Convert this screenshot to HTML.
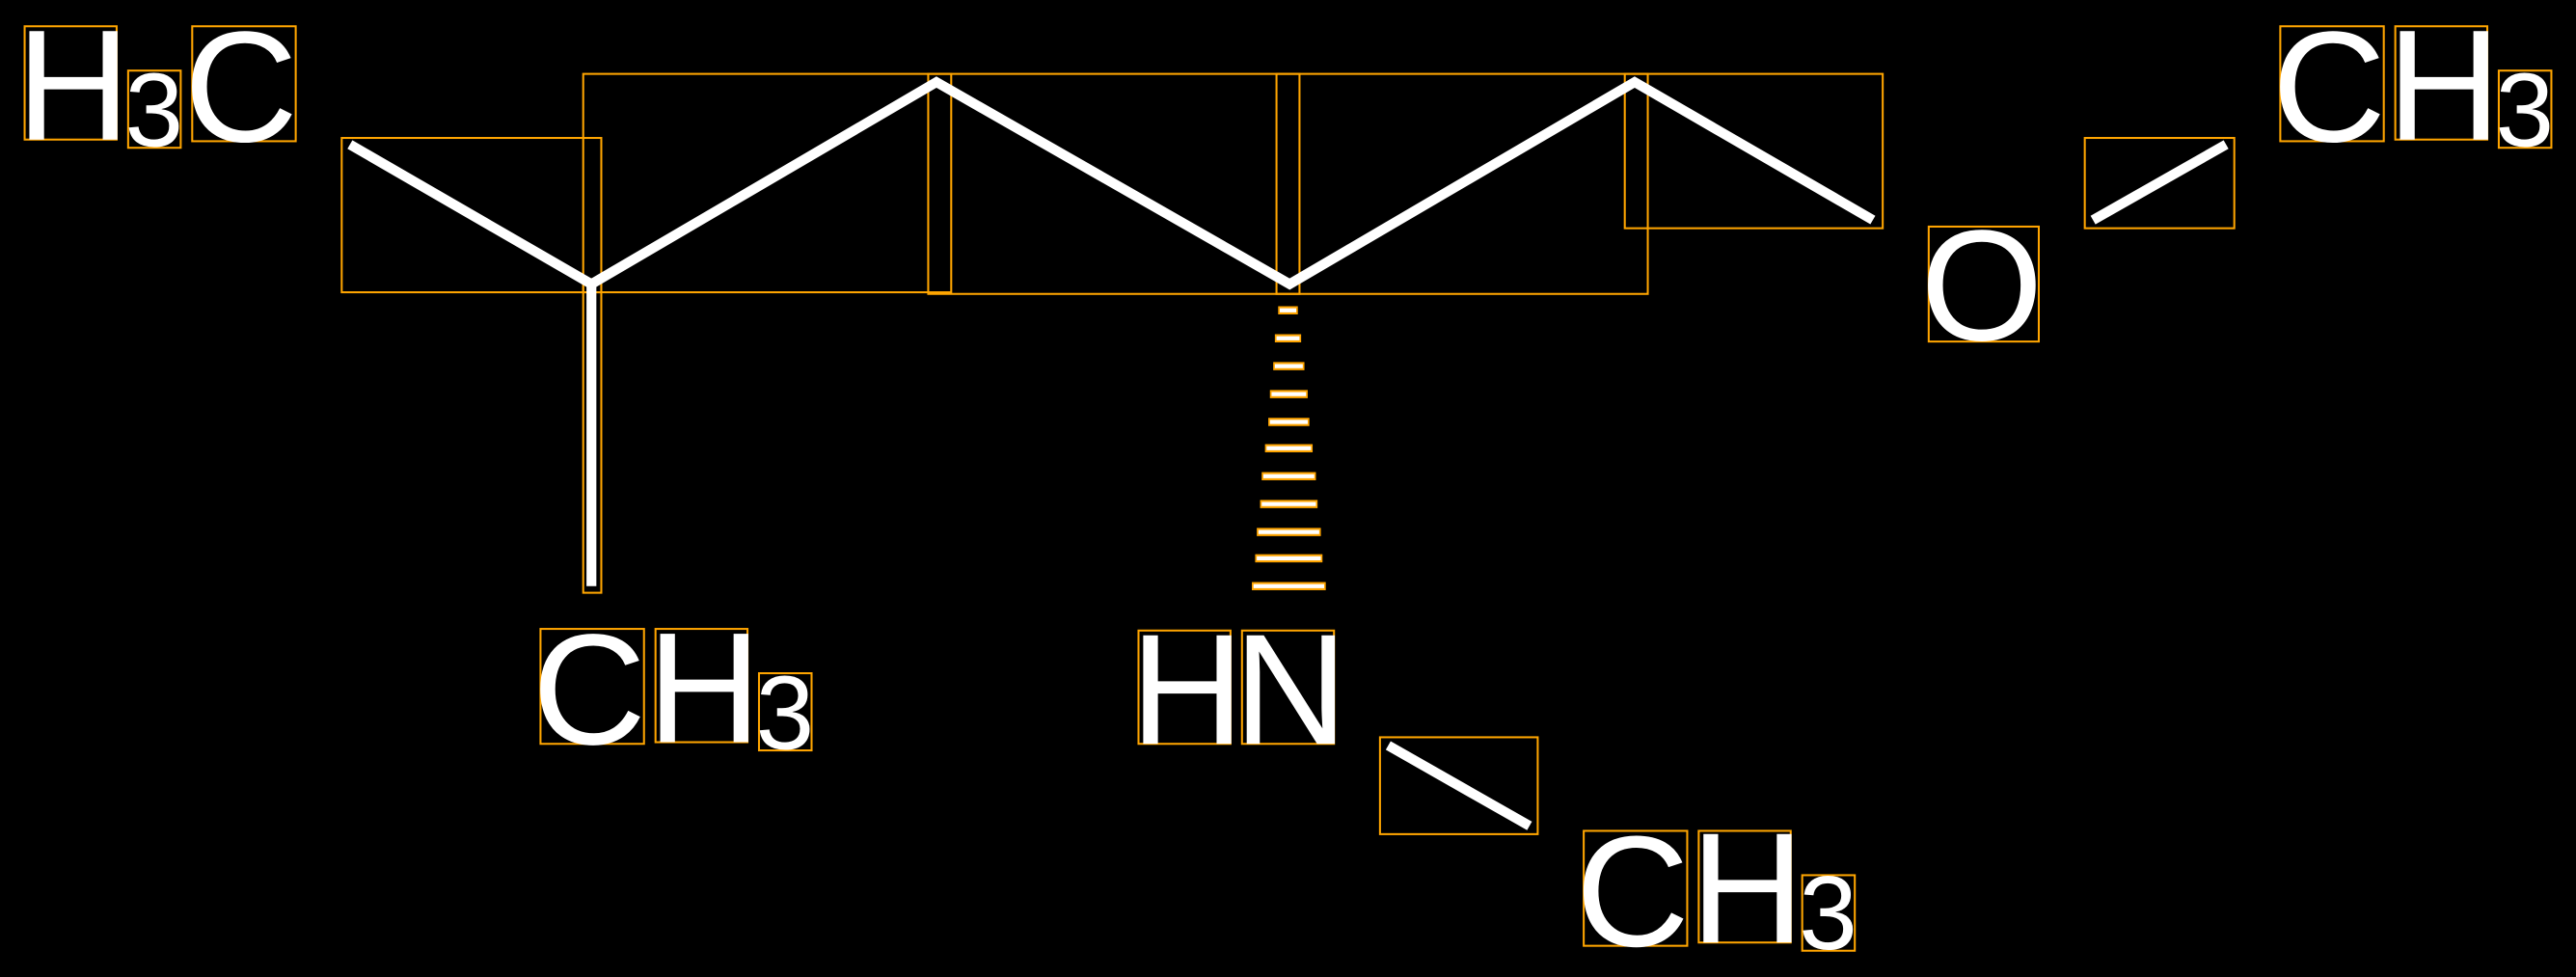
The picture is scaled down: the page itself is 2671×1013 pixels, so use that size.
<!DOCTYPE html>
<html><head><meta charset="utf-8"><style>
html,body{margin:0;padding:0;background:#000;}
svg{display:block;}
text{font-family:"Liberation Sans",sans-serif;fill:#fff;}
</style></head><body>
<svg width="2671" height="1013" viewBox="0 0 1568 595" preserveAspectRatio="none" xmlns="http://www.w3.org/2000/svg">
<rect x="0" y="0" width="1568" height="595" fill="#000"/>
<g fill="none" stroke="#FFA500" stroke-width="1.2">
<rect x="15" y="16" width="56" height="69"/>
<rect x="78" y="43" width="32" height="47"/>
<rect x="117" y="16" width="63" height="70"/>
<rect x="208" y="84" width="158" height="94"/>
<rect x="355" y="45" width="224" height="133"/>
<rect x="565" y="45" width="226" height="134"/>
<rect x="777" y="45" width="226" height="134"/>
<rect x="989" y="45" width="157" height="94"/>
<rect x="355" y="170" width="11" height="191"/>
<rect x="1174" y="138" width="67" height="70"/>
<rect x="1269" y="84" width="91" height="55"/>
<rect x="1388" y="16" width="63" height="70"/>
<rect x="1458" y="16" width="56" height="69"/>
<rect x="1521" y="43" width="32" height="47"/>
<rect x="329" y="383" width="63" height="70"/>
<rect x="399" y="383" width="56" height="69"/>
<rect x="462" y="410" width="32" height="47"/>
<rect x="693" y="384" width="56" height="69"/>
<rect x="756" y="384" width="56" height="69"/>
<rect x="840" y="449" width="96" height="59"/>
<rect x="964" y="506" width="63" height="70"/>
<rect x="1034" y="506" width="56" height="68"/>
<rect x="1097" y="533" width="32" height="46"/>
</g>
<g stroke="#fff" stroke-width="6" fill="none" stroke-linecap="butt">
<polyline points="213,88 360,173 570,50 785,173 995,50 1140,134"/>
<line x1="360" y1="173" x2="360" y2="357"/>
<line x1="1274" y1="134" x2="1355" y2="88"/>
<line x1="845" y1="454" x2="931" y2="503"/>
</g>
<g stroke-width="4">
<line x1="778" y1="189" x2="790" y2="189" stroke="#FFA500" stroke-width="5"/>
<line x1="776" y1="206" x2="792" y2="206" stroke="#FFA500" stroke-width="5"/>
<line x1="775" y1="223" x2="794" y2="223" stroke="#FFA500" stroke-width="5"/>
<line x1="773" y1="240" x2="796" y2="240" stroke="#FFA500" stroke-width="5"/>
<line x1="772" y1="257" x2="797" y2="257" stroke="#FFA500" stroke-width="5"/>
<line x1="770" y1="273" x2="799" y2="273" stroke="#FFA500" stroke-width="5"/>
<line x1="768" y1="290" x2="801" y2="290" stroke="#FFA500" stroke-width="5"/>
<line x1="767" y1="307" x2="802" y2="307" stroke="#FFA500" stroke-width="5"/>
<line x1="765" y1="324" x2="804" y2="324" stroke="#FFA500" stroke-width="5"/>
<line x1="764" y1="340" x2="805" y2="340" stroke="#FFA500" stroke-width="5"/>
<line x1="762" y1="357" x2="807" y2="357" stroke="#FFA500" stroke-width="5"/>
</g>
<g stroke="#fff" stroke-width="2.5">
<line x1="779" y1="189" x2="789" y2="189"/>
<line x1="777" y1="206" x2="791" y2="206"/>
<line x1="776" y1="223" x2="793" y2="223"/>
<line x1="774" y1="240" x2="795" y2="240"/>
<line x1="773" y1="257" x2="796" y2="257"/>
<line x1="771" y1="273" x2="798" y2="273"/>
<line x1="769" y1="290" x2="800" y2="290"/>
<line x1="768" y1="307" x2="801" y2="307"/>
<line x1="766" y1="324" x2="803" y2="324"/>
<line x1="765" y1="340" x2="804" y2="340"/>
<line x1="763" y1="357" x2="806" y2="357"/>
</g>
<g font-size="96">
<text x="10" y="85">H</text>
<text x="112" y="86">C</text>
<text x="1169" y="207">O</text>
<text x="1383" y="86">C</text>
<text x="1453" y="85">H</text>
<text x="324" y="453">C</text>
<text x="394" y="452">H</text>
<text x="688" y="453">H</text>
<text x="751" y="453">N</text>
<text x="959" y="576">C</text>
<text x="1029" y="574">H</text>
</g>
<g font-size="64">
<text x="76" y="89">3</text>
<text x="1519" y="89">3</text>
<text x="460" y="456">3</text>
<text x="1095" y="578">3</text>
</g>
</svg>
</body></html>
